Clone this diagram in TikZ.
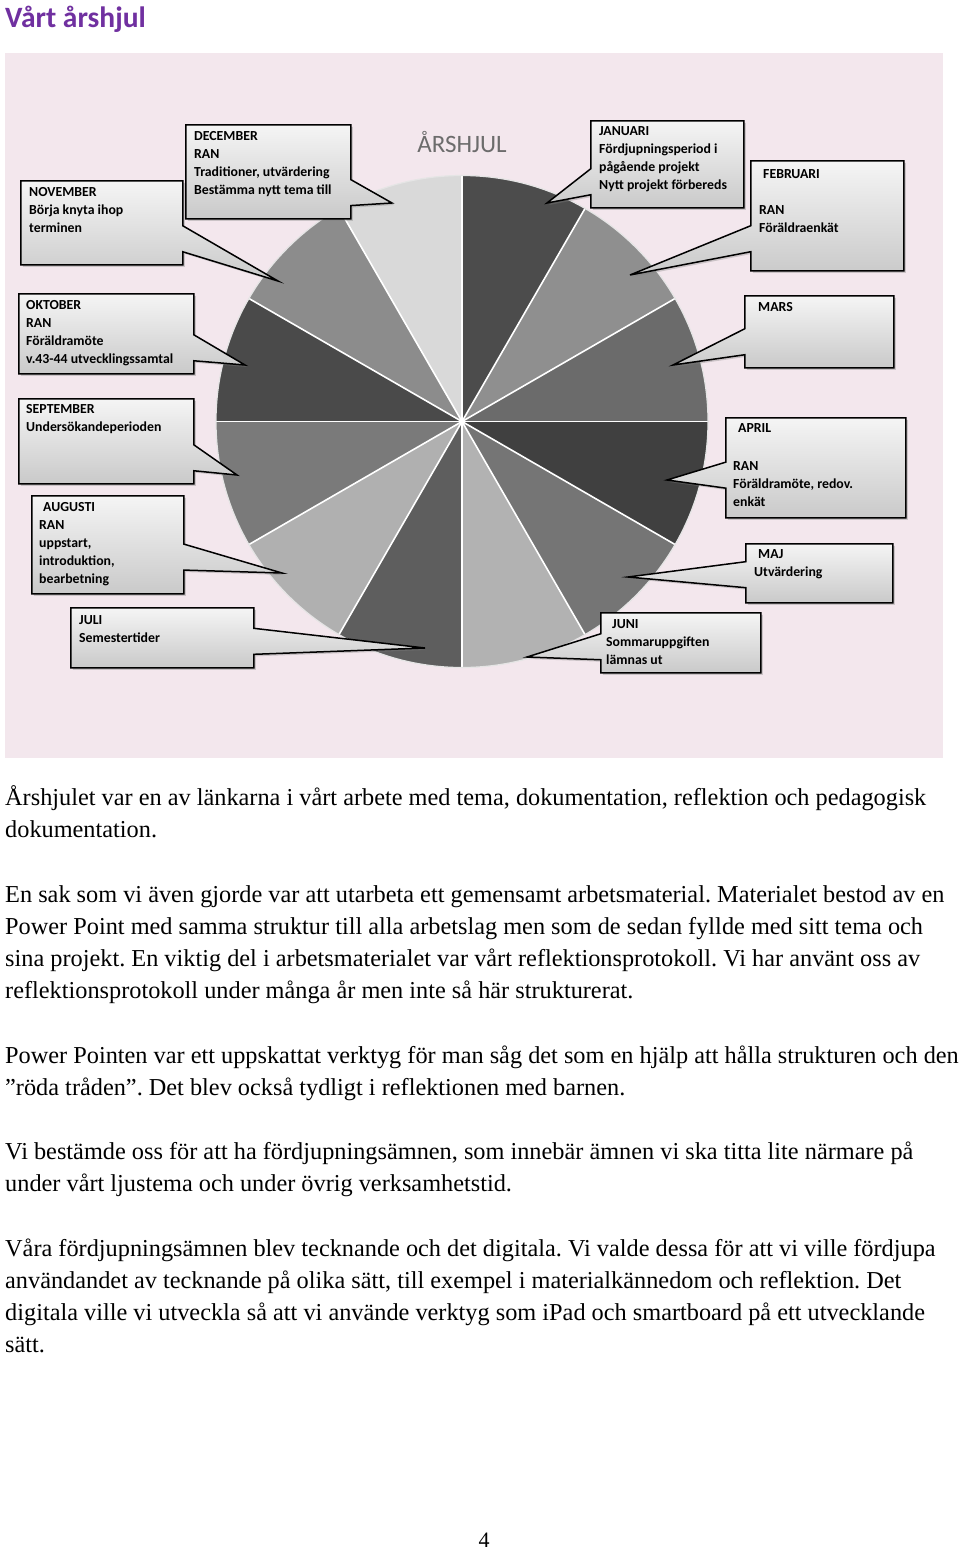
\documentclass[tikz,border=0pt]{standalone}
\usepackage{fontspec}
\setmainfont{Liberation Serif}
\newfontfamily\calibri{Carlito}
\usepackage{tikz}
\usetikzlibrary{shapes.callouts,shadows}
\frenchspacing
\definecolor{panelPink}{RGB}{243,231,237}
\definecolor{titlePurple}{RGB}{112,48,160}
\definecolor{janGray}{gray}{.30}
\definecolor{febGray}{gray}{.56}
\definecolor{marGray}{gray}{.42}
\definecolor{aprGray}{gray}{.25}
\definecolor{majGray}{gray}{.46}
\definecolor{junGray}{gray}{.70}
\definecolor{julGray}{gray}{.37}
\definecolor{augGray}{gray}{.69}
\definecolor{sepGray}{gray}{.48}
\definecolor{oktGray}{gray}{.29}
\definecolor{novGray}{gray}{.55}
\definecolor{decGray}{gray}{.85}
\def\pieR{246pt}
\tikzset{bubble/.style={rectangle callout, draw=black, line width=1.5pt, top color=gray!8, bottom color=gray!42, drop shadow={shadow xshift=2pt, shadow yshift=-2pt, opacity=.35}, anchor=north west, inner sep=0pt, callout pointer width=26pt}}
\tikzset{monthtext/.style={anchor=north west, inner sep=0pt, align=left, font=\calibri\bfseries\fontsize{13.8}{18}\selectfont}}
\tikzset{slicegap/.style={white, line width=1.6pt}}
\tikzset{bodytext/.style={anchor=north west, inner sep=0pt, align=left, font=\fontsize{24.3}{32.2}\selectfont}}

\begin{document}
\begin{tikzpicture}[x=1pt, y=-1pt]
\useasboundingbox (0,0) rectangle (960,1550);
\fill[white] (0,0) rectangle (960,1550);
\node[anchor=base west, inner sep=0pt, titlePurple, font=\calibri\bfseries\fontsize{29.5}{33}\selectfont] (pageTitle) at (5,27) {Vårt årshjul};
\fill[panelPink] (5,53) rectangle (943,758);
\node[gray!85!black, font=\calibri\fontsize{25}{30}\selectfont] (wheelTitle) at (462,142) {ÅRSHJUL};

% the wheel
\coordinate (pie) at (462,421.5);
\fill[janGray] (pie) -- ++(90:\pieR) arc[start angle=90, end angle=60, radius=\pieR] -- cycle;
\fill[febGray] (pie) -- ++(60:\pieR) arc[start angle=60, end angle=30, radius=\pieR] -- cycle;
\fill[marGray] (pie) -- ++(30:\pieR) arc[start angle=30, end angle=0, radius=\pieR] -- cycle;
\fill[aprGray] (pie) -- ++(0:\pieR) arc[start angle=0, end angle=-30, radius=\pieR] -- cycle;
\fill[majGray] (pie) -- ++(-30:\pieR) arc[start angle=-30, end angle=-60, radius=\pieR] -- cycle;
\fill[junGray] (pie) -- ++(-60:\pieR) arc[start angle=-60, end angle=-90, radius=\pieR] -- cycle;
\fill[julGray] (pie) -- ++(-90:\pieR) arc[start angle=-90, end angle=-120, radius=\pieR] -- cycle;
\fill[augGray] (pie) -- ++(-120:\pieR) arc[start angle=-120, end angle=-150, radius=\pieR] -- cycle;
\fill[sepGray] (pie) -- ++(-150:\pieR) arc[start angle=-150, end angle=-180, radius=\pieR] -- cycle;
\fill[oktGray] (pie) -- ++(180:\pieR) arc[start angle=180, end angle=150, radius=\pieR] -- cycle;
\fill[novGray] (pie) -- ++(150:\pieR) arc[start angle=150, end angle=120, radius=\pieR] -- cycle;
\fill[decGray] (pie) -- ++(120:\pieR) arc[start angle=120, end angle=90, radius=\pieR] -- cycle;
\foreach \ang in {0,30,...,330}
  \draw[slicegap] (pie) -- ++(\ang:\pieR);
\draw[white!80!gray, line width=1.2pt] (pie) circle[radius=\pieR];

% callout tips
\coordinate (decTip) at (392,203);
\coordinate (novTip) at (278,281);
\coordinate (oktTip) at (245,365);
\coordinate (sepTip) at (237,475);
\coordinate (augTip) at (282,573);
\coordinate (julTip) at (425,648);
\coordinate (janTip) at (547,203);
\coordinate (febTip) at (630,275);
\coordinate (marTip) at (673,365);
\coordinate (aprTip) at (667,480);
\coordinate (majTip) at (628,577);
\coordinate (junTip) at (527,657);

% left side
\node[bubble, minimum width=165pt, minimum height=94pt, callout absolute pointer={(decTip)}] (decBox) at (185,124) {};
\node[monthtext] (decText) at ([xshift=9pt, yshift=-7.5pt]decBox.north west) {DECEMBER\\RAN\\Traditioner, utvärdering\\Bestämma nytt tema till};
\node[bubble, minimum width=162pt, minimum height=84pt, callout absolute pointer={(novTip)}] (novBox) at (20,180) {};
\node[monthtext] (novText) at ([xshift=9pt, yshift=-7.5pt]novBox.north west) {NOVEMBER\\Börja knyta ihop\\terminen};
\node[bubble, minimum width=175pt, minimum height=80pt, callout absolute pointer={(oktTip)}] (oktBox) at (18,293) {};
\node[monthtext] (oktText) at ([xshift=8pt, yshift=-7.5pt]oktBox.north west) {OKTOBER\\RAN\\Föräldramöte\\v.43-44 utvecklingssamtal};
\node[bubble, minimum width=175pt, minimum height=85pt, callout absolute pointer={(sepTip)}] (sepBox) at (18,398) {};
\node[monthtext] (sepText) at ([xshift=8pt, yshift=-6.5pt]sepBox.north west) {SEPTEMBER\\Undersökandeperioden};
\node[bubble, minimum width=152pt, minimum height=98pt, callout absolute pointer={(augTip)}] (augBox) at (31,495) {};
\node[monthtext] (augText) at ([xshift=8pt, yshift=-7.5pt]augBox.north west) {\hspace*{4pt}AUGUSTI\\RAN\\uppstart,\\introduktion,\\bearbetning};
\node[bubble, minimum width=183pt, minimum height=60pt, callout absolute pointer={(julTip)}] (julBox) at (70,607) {};
\node[monthtext] (julText) at ([xshift=9pt, yshift=-8pt]julBox.north west) {JULI\\Semestertider};

% right side
\node[bubble, minimum width=153pt, minimum height=87pt, callout absolute pointer={(janTip)}] (janBox) at (590,120) {};
\node[monthtext] (janText) at ([xshift=9pt, yshift=-6.5pt]janBox.north west) {JANUARI\\Fördjupningsperiod i\\pågående projekt\\Nytt projekt förbereds};
\node[bubble, minimum width=153pt, minimum height=110pt, callout absolute pointer={(febTip)}] (febBox) at (750,160) {};
\node[monthtext] (febText) at ([xshift=9pt, yshift=-9pt]febBox.north west) {\hspace*{4pt}FEBRUARI\\[18pt]RAN\\Föräldraenkät};
\node[bubble, minimum width=149pt, minimum height=72pt, callout absolute pointer={(marTip)}] (marBox) at (744,295) {};
\node[monthtext] (marText) at ([xshift=14pt, yshift=-7.5pt]marBox.north west) {MARS};
\node[bubble, minimum width=180pt, minimum height=100pt, callout absolute pointer={(aprTip)}] (aprBox) at (725,417) {};
\node[monthtext] (aprText) at ([xshift=8pt, yshift=-6.5pt]aprBox.north west) {\hspace*{5pt}APRIL\\[20pt]RAN\\Föräldramöte, redov.\\enkät};
\node[bubble, minimum width=147pt, minimum height=59pt, callout absolute pointer={(majTip)}] (majBox) at (745,543) {};
\node[monthtext] (majText) at ([xshift=9pt, yshift=-6.5pt]majBox.north west) {\hspace*{4pt}MAJ\\Utvärdering};
\node[bubble, minimum width=160pt, minimum height=60pt, callout absolute pointer={(junTip)}] (junBox) at (600,612) {};
\node[monthtext] (junText) at ([xshift=6pt, yshift=-7.5pt]junBox.north west) {\hspace*{6pt}JUNI\\Sommaruppgiften\\lämnas ut};

% running text
\node[bodytext] (para1) at (5,782.5) {\strut Årshjulet var en av länkarna i vårt arbete med tema, dokumentation, reflektion och pedagogisk\\dokumentation.};
\node[bodytext] (para2) at (5,879.5) {\strut En sak som vi även gjorde var att utarbeta ett gemensamt arbetsmaterial. Materialet bestod av en\\Power Point med samma struktur till alla arbetslag men som de sedan fyllde med sitt tema och\\sina projekt. En viktig del i arbetsmaterialet var vårt reflektionsprotokoll. Vi har använt oss av\\reflektionsprotokoll under många år men inte så här strukturerat.};
\node[bodytext] (para3) at (5,1040.5) {\strut Power Pointen var ett uppskattat verktyg för man såg det som en hjälp att hålla strukturen och den\\”röda tråden”. Det blev också tydligt i reflektionen med barnen.};
\node[bodytext] (para4) at (5,1136.5) {\strut Vi bestämde oss för att ha fördjupningsämnen, som innebär ämnen vi ska titta lite närmare på\\under vårt ljustema och under övrig verksamhetstid.};
\node[bodytext] (para5) at (5,1233.5) {\strut Våra fördjupningsämnen blev tecknande och det digitala. Vi valde dessa för att vi ville fördjupa\\användandet av tecknande på olika sätt, till exempel i materialkännedom och reflektion. Det\\digitala ville vi utveckla så att vi använde verktyg som iPad och smartboard på ett utvecklande\\sätt.};
\node[anchor=base, inner sep=0pt, font=\fontsize{22}{26}\selectfont] (pageNo) at (484,1547) {4};
\end{tikzpicture}
\end{document}
